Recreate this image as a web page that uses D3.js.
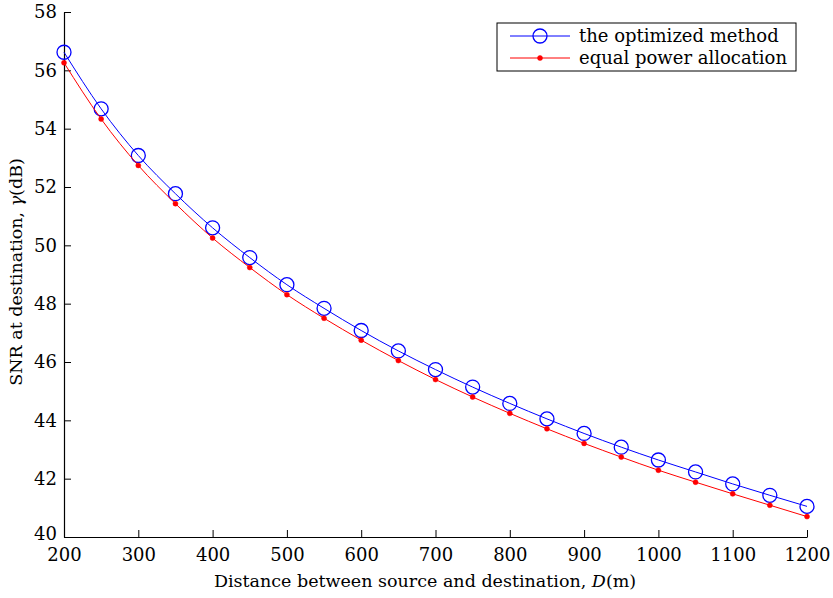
<!DOCTYPE html>
<html>
<head>
<meta charset="utf-8">
<script src="https://cdn.jsdelivr.net/npm/d3@7"></script>
<style>
  body { margin: 0; background: #fff; }
</style>
</head>
<body>
<div id="chart"></div>
<script>
// distances (m)
const distances = [200, 250, 300, 350, 400, 450, 500, 550, 600, 650, 700,
  750, 800, 850, 900, 950, 1000, 1050, 1100, 1150, 1200];
// SNR (dB) for each method
const optimizedSnr = [56.62, 54.68, 53.08, 51.77, 50.6, 49.58, 48.65, 47.84, 47.08, 46.38,
  45.74, 45.14, 44.58, 44.05, 43.55, 43.08, 42.64, 42.23, 41.82, 41.43, 41.05];
const equalSnr = [56.26, 54.33, 52.74, 51.43, 50.25, 49.24, 48.31, 47.5, 46.75, 46.05,
  45.4, 44.8, 44.24, 43.71, 43.21, 42.74, 42.29, 41.88, 41.48, 41.09, 40.7];
const xTicks = [200, 300, 400, 500, 600, 700, 800, 900, 1000, 1100, 1200];
const yTicks = [40, 42, 44, 46, 48, 50, 52, 54, 56, 58];
const legendLabels = ["the optimized method", "equal power allocation"];

const FONT = "DejaVu Serif";

const width = 833, height = 598;
const margin = { left: 64, right: 26, top: 12, bottom: 61 };

const svg = d3.select("#chart").append("svg")
  .attr("width", width)
  .attr("height", height)
  .style("font-family", FONT);

const x = d3.scaleLinear().domain([200, 1200]).range([margin.left, width - margin.right]);
const y = d3.scaleLinear().domain([40, 58]).range([height - margin.bottom, margin.top]);

// axes, ticks pointing inward
const xAxis = svg.append("g")
  .attr("transform", `translate(0,${y(40)})`)
  .call(d3.axisBottom(x).tickValues(xTicks).tickFormat(d3.format("d"))
    .tickSizeInner(-7).tickSizeOuter(0));
xAxis.attr("font-family", null).style("font-family", FONT);
xAxis.select(".domain").attr("stroke-width", 1.2);
xAxis.selectAll("text").attr("font-size", 18).attr("y", 11).attr("dy", "0.71em");

const yAxis = svg.append("g")
  .attr("transform", `translate(${x(200)},0)`)
  .call(d3.axisLeft(y).tickValues(yTicks).tickSizeInner(-7).tickSizeOuter(0));
yAxis.attr("font-family", null).style("font-family", FONT);
yAxis.select(".domain").attr("stroke-width", 1.2);
yAxis.selectAll("text").attr("font-size", 18).attr("x", -7)
  .attr("dy", d => d === 40 ? "0.15em" : "0.32em"); // bottom label nudged up, clear of "200"

// axis titles
const xTitle = svg.append("text")
  .attr("x", 425)
  .attr("y", 587)
  .attr("text-anchor", "middle")
  .attr("font-size", 17.5);
xTitle.append("tspan").text("Distance between source and destination, ");
xTitle.append("tspan").attr("font-style", "italic").text("D");
xTitle.append("tspan").text("(m)");

const yTitle = svg.append("text")
  .attr("transform", "translate(22,272) rotate(-90)")
  .attr("text-anchor", "middle")
  .attr("font-size", 17.5);
yTitle.append("tspan").text("SNR at destination, ");
yTitle.append("tspan").attr("font-style", "italic").text("γ");
yTitle.append("tspan").text("(dB)");

const line = d3.line().curve(d3.curveMonotoneX);

const series = [
  { label: legendLabels[0], values: optimizedSnr, color: "#0000ff", marker: "circle" },
  { label: legendLabels[1], values: equalSnr, color: "#ff0000", marker: "dot" }
];

series.forEach(s => {
  const pts = distances.map((d, i) => [x(d), y(s.values[i])]);
  svg.append("path")
    .attr("d", line(pts))
    .attr("fill", "none")
    .attr("stroke", s.color)
    .attr("stroke-width", 1);
  svg.append("g").selectAll("circle")
    .data(pts)
    .enter().append("circle")
    .attr("cx", p => p[0])
    .attr("cy", p => p[1])
    .attr("r", s.marker === "circle" ? 7 : 2.5)
    .attr("fill", s.marker === "circle" ? "none" : s.color)
    .attr("stroke", s.color)
    .attr("stroke-width", s.marker === "circle" ? 1.3 : 0.5);
});

// legend
const legend = svg.append("g").attr("transform", "translate(497,23)");
legend.append("rect")
  .attr("width", 299)
  .attr("height", 48)
  .attr("fill", "#fff")
  .attr("stroke", "#000")
  .attr("stroke-width", 1);
series.forEach((s, i) => {
  const cy = 13 + i * 22;
  legend.append("line")
    .attr("x1", 13).attr("x2", 73)
    .attr("y1", cy).attr("y2", cy)
    .attr("stroke", s.color)
    .attr("stroke-width", 1);
  legend.append("circle")
    .attr("cx", 43).attr("cy", cy)
    .attr("r", s.marker === "circle" ? 7 : 2.5)
    .attr("fill", s.marker === "circle" ? "none" : s.color)
    .attr("stroke", s.color)
    .attr("stroke-width", s.marker === "circle" ? 1.3 : 0.5);
  legend.append("text")
    .attr("x", 82)
    .attr("y", cy)
    .attr("dy", "0.33em")
    .attr("font-size", 18)
    .text(s.label);
});
</script>
</body>
</html>
